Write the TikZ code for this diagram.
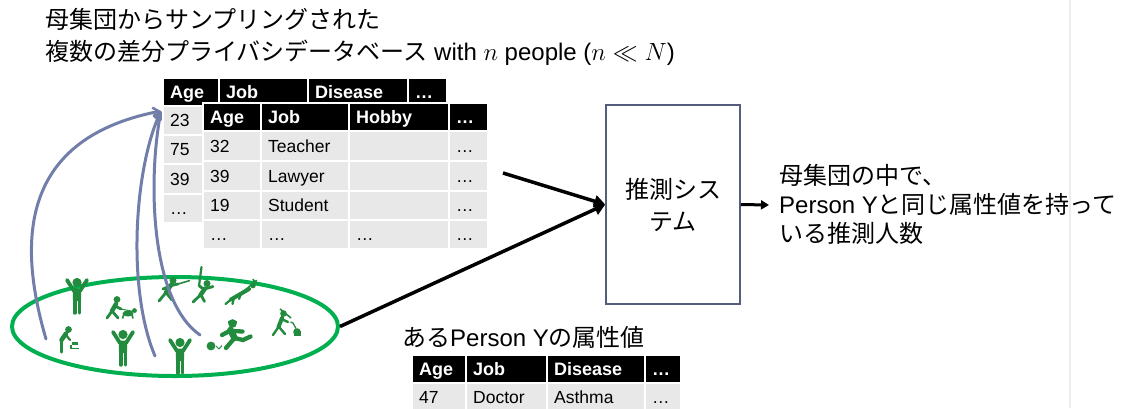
\documentclass[tikz,border=0pt]{standalone}
\usepackage{fontspec}
\setmainfont{Liberation Sans}
\newfontfamily\jp{Noto Sans CJK JP}
\usetikzlibrary{arrows.meta,shapes.geometric,fit}

\definecolor{cellgray}{RGB}{232,232,232}
\definecolor{popgreen}{RGB}{0,176,80}
\definecolor{figgreen}{RGB}{34,139,62}
\definecolor{linkblue}{RGB}{114,126,170}
\definecolor{boxedge}{RGB}{84,94,124}

\tikzset{
  hcell/.style={inner sep=0pt, fill=black, draw=white, line width=2pt},
  dcell/.style={inner sep=0pt, fill=cellgray, draw=white, line width=2pt},
  hcell txt/.style={text=white, font=\fontsize{18}{20}\selectfont\bfseries,
    inner sep=0pt, text height=13pt, text depth=0pt},
  dcell txt/.style={text=black, font=\fontsize{17.5}{19}\selectfont,
    inner sep=0pt, text height=12.5pt, text depth=0pt},
  link/.style={draw=linkblue, line width=3pt, line cap=round,
    -{Straight Barb[length=6pt,width=10pt,line width=2.5pt]}},
  feed/.style={draw=black, line width=3.5pt, -{Triangle[length=11pt,width=12pt]}},
  jtext/.style={font=\fontsize{24}{29}\selectfont, inner sep=0pt},
  upman/.pic={
    \fill (0,4.5) circle (4.6pt);
    \draw[line width=3.8pt, line cap=round] (-3,13) -- (-10,2) (3,13) -- (10,2);
    \fill[rounded corners=1.5pt] (-4.2,10.5) rectangle (4.2,23);
    \draw[line width=3.4pt, line cap=round] (-2.2,21) -- (-2.2,35) (2.2,21) -- (2.2,35);
  },
}

% one table cell: style, name, x1, y1, x2, y2, text
\newcommand\tcell[7]{%
  \node[#1, fit={(#3,#4) (#5,#6)}] (#2) {};
  \node[#1 txt, anchor=west] (#2t) at ([xshift=8pt]#2.west) {#7};}

\begin{document}
\begin{tikzpicture}[x=1pt, y=-1pt]
\useasboundingbox (0,0) rectangle (1134,408);
\fill[white] (0,0) rectangle (1134,408);
\clip (0,0) rectangle (1134,408);

% heading
\node[anchor=west, align=left, font=\fontsize{24}{32}\selectfont, inner sep=0pt] (title) at (45,37)
  {{\jp 母集団からサンプリングされた}\\{\jp 複数の差分プライバシデータベース} with $n$ people ($n \ll N$)};

% population
\node[ellipse, draw=popgreen, line width=4pt, minimum width=326, minimum height=99, inner sep=0pt] (pop) at (175,326.5) {};

\begin{scope}[color=figgreen]
  \pic at (77,278) {upman};
  \pic at (123,330) {upman};
  \pic at (180,338) {upman};
  % walking a dog
  \fill (117,299.5) circle (3.4pt);
  \draw[line width=4.5pt, line cap=round] (116,304) -- (112,311);
  \draw[line width=2.8pt, line cap=round] (112,311) -- (107,318) (112,311) -- (118,318) (115,306) -- (121,309);
  \draw[line width=1pt] (121,309) -- (136,312);
  \fill (128,313.5) ellipse (5.5pt and 3pt);
  \fill (134.5,310.5) circle (2.4pt);
  \draw[line width=1.6pt] (124,314) -- (122.5,318.5) (132,314) -- (133,318.5);
  % fencer
  \fill (173,280.5) circle (3.5pt);
  \draw[line width=4.5pt, line cap=round] (171,285) -- (166,292.5);
  \draw[line width=2.8pt, line cap=round] (166,292.5) -- (159,301) (166,292.5) -- (172,300) (170,286) -- (163,289) (171,285.5) -- (178,284);
  \draw[line width=1.6pt] (178,284) -- (190,280.5);
  % batter
  \draw[line width=2.2pt, line cap=round] (199,286) -- (201.5,267);
  \fill (207,283.5) circle (3.5pt);
  \draw[line width=4.5pt, line cap=round] (205,288.5) -- (200.5,295);
  \draw[line width=2.8pt, line cap=round] (204.5,289) -- (213,286.5) (204,289.5) -- (199.5,286) (200.5,295) -- (193,302) (201,295) -- (204.5,301.5);
  % climber
  \draw[line width=4pt, line cap=round] (231,299.5) -- (249,289);
  \fill (253,285.5) circle (2.8pt);
  \draw[line width=1.6pt, line cap=round] (244,291) -- (256.5,280.5) (253,279.5) -- (257,283.5);
  \draw[line width=2.2pt, line cap=round] (231,299.5) -- (225.5,304) (234,297.5) -- (232.5,304) (241,294) -- (239,299);
  % changing a baby
  \fill (68.5,329.5) circle (3.4pt);
  \draw[line width=4.5pt, line cap=round] (66,333.5) -- (61.5,340);
  \draw[line width=3.4pt, line cap=round] (61.5,340) -- (61.5,352);
  \draw[line width=2.2pt, line cap=round] (66,335) -- (70,340);
  \fill (72,342) rectangle (77.5,345);
  \draw[line width=1.5pt] (69.5,348.5) -- (78.5,348.5) (71,345) -- (71,348.5);
  % football
  \fill (211,346) circle (4.4pt);
  \draw[line width=1pt] (216,346) -- (219,349) -- (222,345.5);
  \fill (232.5,323.5) circle (4.3pt);
  \fill (228,320.5) rectangle (237,322.5);
  \draw[line width=6.5pt, line cap=round] (230.5,330) -- (234.5,338);
  \draw[line width=4.3pt, line cap=round] (234.5,338) -- (226,348) (234.5,338) -- (243,340) -- (250.5,336.5) (229.5,331) -- (222,335) (233,331) -- (242.5,331.5);
  % gardener
  \fill (283.5,313.5) circle (3.3pt);
  \draw[line width=4pt, line cap=round] (282,318) -- (278.5,327);
  \draw[line width=2.4pt, line cap=round] (278.5,327) -- (273,335) (279,327) -- (285,334) (281.5,319) -- (288,322);
  \draw[line width=1.6pt] (280,309) -- (291,318);
  \fill (297,332) circle (3.8pt);
  \fill (293.5,331) rectangle (300.5,336);
  \draw[line width=1.3pt] (296,328.5) -- (293,323) (293,323) -- (290.5,322);
\end{scope}

% sampling links
\coordinate (tin) at (161,111);
\coordinate (sA) at (46,339);
\coordinate (sB) at (155,356);
\coordinate (sC) at (200,335);
\draw[link] (sA) .. controls (20,250) and (14,140) .. (tin);
\draw[link] (sB) .. controls (127,290) and (134,170) .. (tin);
\draw[link] (sC) .. controls (150,300) and (148,180) .. (tin);

% sampled database (back)
\tcell{hcell}{b-h1}{163}{78}{219}{106}{Age}
\tcell{hcell}{b-h2}{219}{78}{308}{106}{Job}
\tcell{hcell}{b-h3}{308}{78}{408}{106}{Disease}
\tcell{hcell}{b-h4}{408}{78}{447}{106}{…}
\tcell{dcell}{b-r1}{163}{106}{219}{135}{23}
\tcell{dcell}{b-r2}{163}{135}{219}{164}{75}
\tcell{dcell}{b-r3}{163}{164}{219}{194}{39}
\tcell{dcell}{b-r4}{163}{194}{219}{223}{…}

% sampled database (front)
\tcell{hcell}{f-h1}{203}{103}{261}{131}{Age}
\tcell{hcell}{f-h2}{261}{103}{349}{131}{Job}
\tcell{hcell}{f-h3}{349}{103}{449}{131}{Hobby}
\tcell{hcell}{f-h4}{449}{103}{488}{131}{…}
\tcell{dcell}{f-a1}{203}{131}{261}{161}{32}
\tcell{dcell}{f-a2}{261}{131}{349}{161}{Teacher}
\tcell{dcell}{f-a3}{349}{131}{449}{161}{}
\tcell{dcell}{f-a4}{449}{131}{488}{161}{…}
\tcell{dcell}{f-b1}{203}{161}{261}{191}{39}
\tcell{dcell}{f-b2}{261}{161}{349}{191}{Lawyer}
\tcell{dcell}{f-b3}{349}{161}{449}{191}{}
\tcell{dcell}{f-b4}{449}{161}{488}{191}{…}
\tcell{dcell}{f-c1}{203}{191}{261}{220}{19}
\tcell{dcell}{f-c2}{261}{191}{349}{220}{Student}
\tcell{dcell}{f-c3}{349}{191}{449}{220}{}
\tcell{dcell}{f-c4}{449}{191}{488}{220}{…}
\tcell{dcell}{f-d1}{203}{220}{261}{249}{…}
\tcell{dcell}{f-d2}{261}{220}{349}{249}{…}
\tcell{dcell}{f-d3}{349}{220}{449}{249}{…}
\tcell{dcell}{f-d4}{449}{220}{488}{249}{…}

% estimation system
\node[draw=boxedge, line width=1.5pt, minimum width=134, minimum height=199, inner sep=0pt,
      align=center, font=\fontsize{24}{32}\selectfont\jp] (sys) at (673,204.5) {推測シス\\テム};

\coordinate (dbend) at (503,173);
\draw[feed] (dbend) -- (sys.west);
\draw[feed] (pop.east) -- (sys.west);

% result
\node[jtext, anchor=west, align=left] (out) at (779,204)
  {{\jp 母集団の中で、}\\Person Y{\jp と同じ属性値を持って}\\{\jp いる推測人数}};
\coordinate (outtip) at (769,205);
\draw[draw=black, line width=3pt, -{Triangle[length=8pt,width=9pt]}] (sys.east) -- (outtip);

% target person
\node[jtext, anchor=west] (plabel) at (402,337) {{\jp ある}Person Y{\jp の属性値}};
\tcell{hcell}{y-h1}{412}{355}{466}{383}{Age}
\tcell{hcell}{y-h2}{466}{355}{547}{383}{Job}
\tcell{hcell}{y-h3}{547}{355}{645}{383}{Disease}
\tcell{hcell}{y-h4}{645}{355}{681}{383}{…}
\tcell{dcell}{y-r1}{412}{383}{466}{412}{47}
\tcell{dcell}{y-r2}{466}{383}{547}{412}{Doctor}
\tcell{dcell}{y-r3}{547}{383}{645}{412}{Asthma}
\tcell{dcell}{y-r4}{645}{383}{681}{412}{…}

% page edge rule
\draw[draw=black!7, line width=2pt] (1070,0) -- (1070,408);
\end{tikzpicture}
\end{document}
